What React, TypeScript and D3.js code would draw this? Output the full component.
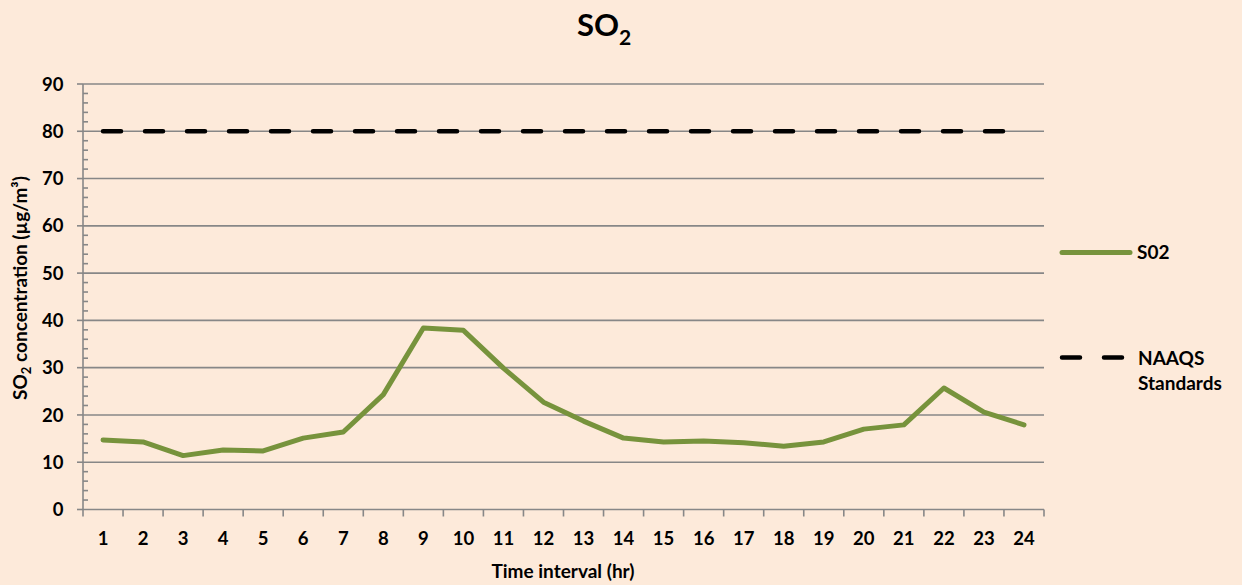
import React from "react";
import * as d3 from "d3";

// Hourly intervals (hr)
const hours: string[] = [
  "1", "2", "3", "4", "5", "6", "7", "8", "9", "10", "11", "12",
  "13", "14", "15", "16", "17", "18", "19", "20", "21", "22", "23", "24",
];

// Measured SO2 concentration (µg/m³)
const so2Values: number[] = [
  14.7, 14.3, 11.4, 12.6, 12.4, 15.1, 16.4, 24.3, 38.4, 37.9, 29.9, 22.7,
  18.7, 15.1, 14.3, 14.5, 14.1, 13.4, 14.3, 17.0, 17.9, 25.7, 20.6, 17.9,
];

// NAAQS standard limit (µg/m³)
const naaqsValues: number[] = [
  80, 80, 80, 80, 80, 80, 80, 80, 80, 80, 80, 80,
  80, 80, 80, 80, 80, 80, 80, 80, 80, 80, 80, 80,
];

const yMajorTicks: number[] = [0, 10, 20, 30, 40, 50, 60, 70, 80, 90];

const W = 1242;
const H = 585;
const BG = "#FDEADA";
const GRID = "#878787";
const GREEN = "#77933C";
const FONT = "Lato, 'Open Sans', sans-serif";
const LABEL_SIZE = 18.5;

const plot = { left: 83, right: 1044, top: 84, bottom: 509.5 };

export default function App() {
  const x = d3
    .scaleBand<string>()
    .domain(hours)
    .range([plot.left, plot.right])
    .paddingInner(0)
    .paddingOuter(0);
  const cx = (h: string) => (x(h) as number) + x.bandwidth() / 2;
  const y = d3.scaleLinear().domain([0, 90]).range([plot.bottom, plot.top]);

  const line = d3
    .line<number>()
    .x((_, i) => cx(hours[i]))
    .y((d) => y(d));

  const minorTicks = d3.range(0, 90.001, 2).filter((v) => v % 10 !== 0);
  const boundaries = [...hours.map((h) => x(h) as number), plot.right];

  return (
    <svg
      width={W}
      height={H}
      style={{ position: "absolute", left: 0, top: 0, display: "block" }}
      fontFamily={FONT}
    >
      <rect x={0} y={0} width={W} height={H} fill={BG} />

      {/* Title */}
      <text
        x={604}
        y={36}
        textAnchor="middle"
        fontSize={31}
        fontWeight={700}
        fill="#000"
      >
        SO
        <tspan fontSize={21} dy={9}>
          2
        </tspan>
      </text>

      {/* Horizontal gridlines */}
      {yMajorTicks
        .filter((v) => v > 0)
        .map((v) => (
          <line
            key={`g${v}`}
            x1={plot.left}
            x2={plot.right}
            y1={y(v)}
            y2={y(v)}
            stroke={GRID}
            strokeWidth={1.6}
          />
        ))}

      {/* Y axis */}
      <line
        x1={plot.left}
        x2={plot.left}
        y1={plot.top}
        y2={plot.bottom}
        stroke={GRID}
        strokeWidth={1.6}
      />
      {yMajorTicks.map((v) => (
        <line
          key={`yt${v}`}
          x1={plot.left - 6}
          x2={plot.left}
          y1={y(v)}
          y2={y(v)}
          stroke={GRID}
          strokeWidth={1.6}
        />
      ))}
      {minorTicks.map((v) => (
        <line
          key={`ym${v}`}
          x1={plot.left}
          x2={plot.left + 5}
          y1={y(v)}
          y2={y(v)}
          stroke={GRID}
          strokeWidth={1.6}
        />
      ))}
      {yMajorTicks.map((v) => (
        <text
          key={`yl${v}`}
          x={63.5}
          y={y(v)}
          dy="0.36em"
          textAnchor="end"
          fontSize={LABEL_SIZE}
          fontWeight={700}
          fill="#000"
        >
          {v}
        </text>
      ))}

      {/* X axis */}
      <line
        x1={plot.left}
        x2={plot.right}
        y1={plot.bottom}
        y2={plot.bottom}
        stroke={GRID}
        strokeWidth={1.6}
      />
      {boundaries.map((bx, i) => (
        <line
          key={`xt${i}`}
          x1={bx}
          x2={bx}
          y1={plot.bottom}
          y2={plot.bottom + 7}
          stroke={GRID}
          strokeWidth={1.6}
        />
      ))}
      {hours.map((h) => (
        <text
          key={`xl${h}`}
          x={cx(h)}
          y={544.5}
          textAnchor="middle"
          fontSize={LABEL_SIZE}
          fontWeight={700}
          fill="#000"
        >
          {h}
        </text>
      ))}

      {/* Axis titles */}
      <text
        x={563}
        y={578}
        textAnchor="middle"
        fontSize={19}
        fontWeight={700}
        fill="#000"
      >
        Time interval (hr)
      </text>
      <text
        transform={`translate(27, 288) rotate(-90)`}
        textAnchor="middle"
        fontSize={19}
        fontWeight={700}
        fill="#000"
      >
        SO
        <tspan fontSize={13} dy={4}>
          2
        </tspan>
        <tspan dy={-4}> concentration (µg/m³)</tspan>
      </text>

      {/* NAAQS standard */}
      <path
        d={line(naaqsValues) || ""}
        fill="none"
        stroke="#000"
        strokeWidth={4.5}
        strokeLinecap="round"
        strokeDasharray="18 24"
      />

      {/* SO2 series */}
      <path
        d={line(so2Values) || ""}
        fill="none"
        stroke={GREEN}
        strokeWidth={5}
        strokeLinejoin="round"
        strokeLinecap="round"
      />

      {/* Legend */}
      <line
        x1={1062}
        x2={1130}
        y1={252.5}
        y2={252.5}
        stroke={GREEN}
        strokeWidth={5}
        strokeLinecap="round"
      />
      <text x={1137} y={252.5} dy="0.36em" fontSize={19} fontWeight={700} fill="#000">
        S02
      </text>
      <line
        x1={1062}
        x2={1128}
        y1={357.5}
        y2={357.5}
        stroke="#000"
        strokeWidth={4.5}
        strokeLinecap="round"
        strokeDasharray="18 24"
      />
      <text x={1138} y={365} fontSize={19} fontWeight={700} fill="#000">
        NAAQS
      </text>
      <text x={1138} y={390} fontSize={19} fontWeight={700} fill="#000">
        Standards
      </text>
    </svg>
  );
}
